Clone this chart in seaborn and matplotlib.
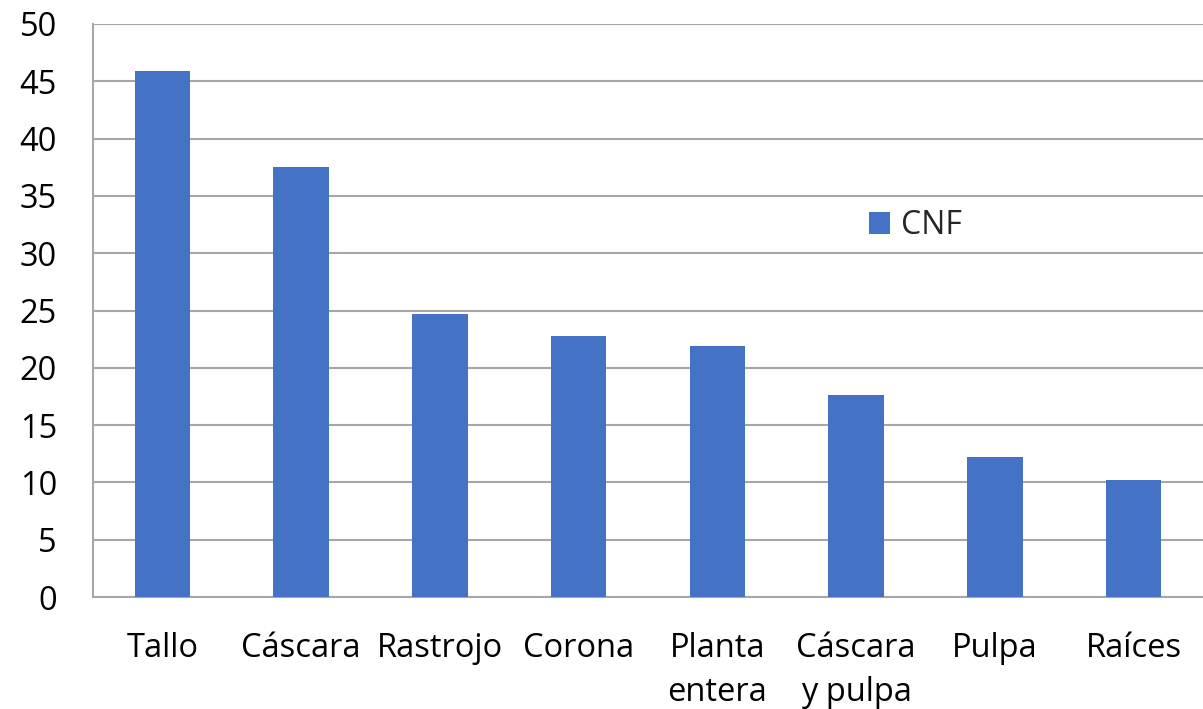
import matplotlib
matplotlib.use("Agg")
import matplotlib.pyplot as plt
import seaborn as sns
import pandas as pd

categorias = ["Tallo", "Cáscara", "Rastrojo", "Corona", "Planta\nentera",
              "Cáscara\ny pulpa", "Pulpa", "Raíces"]
cnf = [45.9, 37.5, 24.7, 22.8, 21.9, 17.6, 12.2, 10.2]
serie = "CNF"
y_ticks = [0, 5, 10, 15, 20, 25, 30, 35, 40, 45, 50]

sns.set_theme(style="white")
plt.rcParams["font.family"] = ["Open Sans", "DejaVu Sans"]

df = pd.DataFrame({"categoria": categorias, "valor": cnf, "serie": [serie] * len(cnf)})

fig = plt.figure(figsize=(12.03, 7.09), dpi=100)
ax = fig.add_axes([93 / 1203, 1 - 597 / 709, 1 - 93 / 1203, (597 - 24) / 709])

grid_col = "#a6a6a6"
sns.barplot(data=df, x="categoria", y="valor", hue="serie", palette=["#4472C4"],
            saturation=1, width=0.4, linewidth=0, ax=ax, zorder=3)

ax.set_ylim(0, 50)
ax.set_xlim(-0.5, len(categorias) - 0.5)
ax.set_yticks(y_ticks)
ax.yaxis.grid(True, color=grid_col, linewidth=1.5, zorder=0)
ax.set_axisbelow(True)
ax.set_xlabel("")
ax.set_ylabel("")

for side in ["top", "right"]:
    ax.spines[side].set_visible(False)
for side in ["left", "bottom"]:
    ax.spines[side].set_color(grid_col)
    ax.spines[side].set_linewidth(1.5)

# category boundary ticks on the x axis
ax.set_xticks([i - 0.5 for i in range(len(categorias) + 1)], minor=True)
ax.tick_params(axis="x", which="minor", length=10, width=1.5, color=grid_col, direction="out")
ax.tick_params(axis="x", which="major", length=0, pad=25, labelsize=23.5, labelcolor="black")
ax.tick_params(axis="y", which="major", length=11, width=1.5, color=grid_col,
               direction="out", pad=15, labelsize=23.5, labelcolor="black")
ax.set_xticks(range(len(categorias)))
ax.set_xticklabels(categorias, linespacing=1.45, va="top")

leg = ax.legend(loc="center left", bbox_to_anchor=(0.673, 0.648), frameon=False,
                fontsize=23, handlelength=0.65, handleheight=0.65, handletextpad=0.35)

fig.savefig("out.png", dpi=100, facecolor="white")
